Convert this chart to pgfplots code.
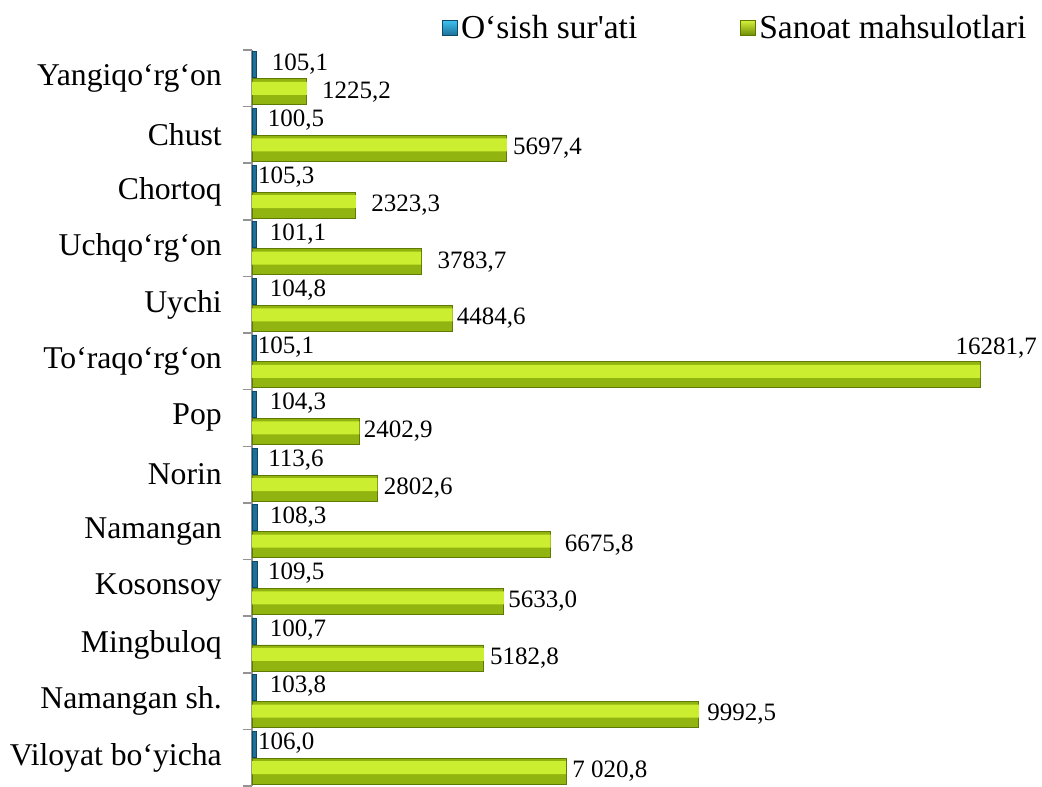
\documentclass[border=0pt]{standalone}
\usepackage{fontspec}
\setmainfont{Liberation Serif}
\usepackage{pgfplots}
\usepackage{pgfplotstable}
\pgfplotsset{compat=1.18}

\definecolor{bblue}{HTML}{1D6F98}
\definecolor{bbluedark}{HTML}{0D4A6A}
\definecolor{blight}{HTML}{3CC2F0}
\definecolor{gtop}{HTML}{D4F03C}
\definecolor{glight}{HTML}{CCEE30}
\definecolor{gbase}{HTML}{92B410}
\definecolor{gbot}{HTML}{6E8C05}
\definecolor{gdraw}{HTML}{5F7A00}

% idx 0 = bottom row (Viloyat bo'yicha)
\pgfplotstableread[col sep=semicolon]{
idx;osish;olab;odx;sanoat;slab;sdx;sdy
0;106.0;106,0;1;7020.8;7 020,8;6;0
1;103.8;103,8;13;9992.5;9992,5;8;0
2;100.7;100,7;13;5182.8;5182,8;6;0
3;109.5;109,5;11;5633.0;5633,0;4;0
4;108.3;108,3;13;6675.8;6675,8;14;0
5;113.6;113,6;11;2802.6;2802,6;6;0
6;104.3;104,3;13;2402.9;2402,9;4;0
7;105.1;105,1;1;16281.7;16281,7;-25;27
8;104.8;104,8;13;4484.6;4484,6;4;0
9;101.1;101,1;13;3783.7;3783,7;16;0
10;105.3;105,3;1;2323.3;2323,3;15;0
11;100.5;100,5;11;5697.4;5697,4;6;0
12;105.1;105,1;15;1225.2;1225,2;15;0
}\data

\begin{document}
\begin{tikzpicture}
\begin{axis}[
    name=ax,
    scale only axis,
    width=758pt, height=736pt,
    xmin=0, xmax=16950,
    ymin=-0.5, ymax=12.5,
    xbar,
    bar width=26pt,
    hide x axis,
    axis y line*=left,
    y axis line style={draw=gray!85, line width=1.5pt},
    ytick={0,...,12},
    yticklabels={Viloyat bo‘yicha, Namangan sh., Mingbuloq, Kosonsoy, {Namangan\ }, Norin, Pop, To‘raqo‘rg‘on, Uychi, Uchqo‘rg‘on, Chortoq, Chust, Yangiqo‘rg‘on},
    minor ytick={-0.5,0.5,...,12.5},
    major tick length=0pt,
    minor tick length=9pt,
    tick align=outside,
    minor tick style={draw=gray!85, line width=1.5pt},
    yticklabel style={font=\fontsize{31.7}{37}\selectfont, inner sep=0pt, anchor=east, xshift=-30pt},
    clip=false,
    legend columns=2,
    legend style={at={(0.251,1.030)}, anchor=west, draw=none, fill=none,
        inner sep=0pt, font=\fontsize{33.5}{38}\selectfont,
        nodes={inner xsep=3pt, inner ysep=0pt},
        /tikz/every even column/.append style={column sep=100pt}},
]
\addplot[bar shift=13.5pt, fill=bblue, draw=bbluedark, line width=0.6pt,
    legend image code/.code={\draw[draw=bbluedark, top color=blight, bottom color=bblue] (0pt,-7.5pt) rectangle (15pt,7.5pt);},
    nodes near coords, point meta=explicit symbolic,
    visualization depends on={\thisrow{odx} \as \odx},
    every node near coord/.append style={font=\fontsize{25}{30}\selectfont, text=black,
        anchor=west, inner sep=0pt, xshift=\odx pt, yshift=1pt}]
    table[x=osish, y=idx, meta=olab] {\data};
\addlegendentry{O‘sish sur\textquotesingle ati}
\addplot[bar shift=-13.5pt, fill=gbase, draw=gdraw, line width=0.9pt,
    legend image code/.code={\draw[draw=gdraw, top color=gtop, bottom color=gbot] (0pt,-7.5pt) rectangle (15pt,7.5pt);},
    nodes near coords, point meta=explicit symbolic,
    visualization depends on={\thisrow{sdx} \as \sdx},
    visualization depends on={\thisrow{sdy} \as \sdy},
    every node near coord/.append style={font=\fontsize{25}{30}\selectfont, text=black,
        anchor=west, inner sep=0pt, xshift=\sdx pt, yshift=\sdy pt}]
    table[x=sanoat, y=idx, meta=slab] {\data};
\addlegendentry{Sanoat mahsulotlari}
% bright upper band of the bevelled green bars
\addplot[forget plot, bar shift=-10pt, bar width=13pt, fill=glight, draw=none]
    table[x=sanoat, y=idx] {\data};
\end{axis}
\pgfresetboundingbox
\path ([shift={(-252pt,786pt)}]ax.south west) rectangle ([shift={(790pt,-1pt)}]ax.south west);
\end{tikzpicture}
\end{document}
